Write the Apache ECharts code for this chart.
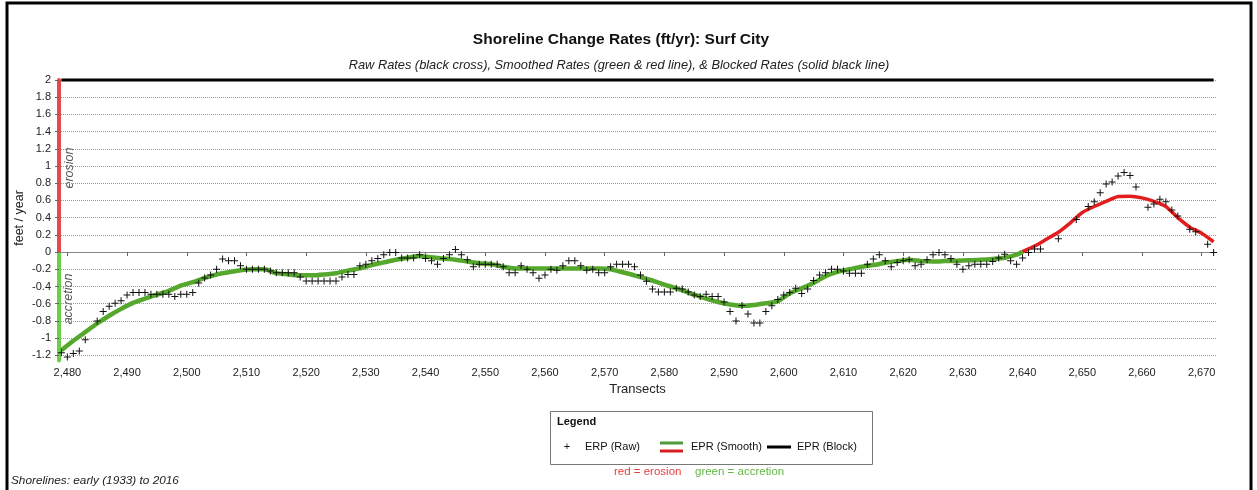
<!DOCTYPE html>
<html>
<head>
<meta charset="utf-8">
<script src="https://cdn.jsdelivr.net/npm/echarts@6/dist/echarts.min.js"></script>
<style>
html,body{margin:0;padding:0;background:#fff;}
#chart{width:1257px;height:490px;}
</style>
</head>
<body>
<div id="chart"></div>
<script>
// ---- data ----
const xTicks = [2480,2490,2500,2510,2520,2530,2540,2550,2560,2570,2580,2590,2600,2610,2620,2630,2640,2650,2660,2670];
const yTicks = [-1.2,-1,-0.8,-0.6,-0.4,-0.2,0,0.2,0.4,0.6,0.8,1,1.2,1.4,1.6,1.8,2];

const rawTransects = [2479,2480,2481,2482,2483,2485,2486,2487,2488,2489,2490,2491,2492,2493,2494,2495,2496,2497,2498,2499,
  2500,2501,2502,2503,2504,2505,2506,2507,2508,2509,2510,2511,2512,2513,2514,2515,2516,2517,2518,2519,
  2520,2521,2522,2523,2524,2525,2526,2527,2528,2529,2530,2531,2532,2533,2534,2535,2536,2537,2538,2539,
  2540,2541,2542,2543,2544,2545,2546,2547,2548,2549,2550,2551,2552,2553,2554,2555,2556,2557,2558,2559,
  2560,2561,2562,2563,2564,2565,2566,2567,2568,2569,2570,2571,2572,2573,2574,2575,2576,2577,2578,2579,
  2580,2581,2582,2583,2584,2585,2586,2587,2588,2589,2590,2591,2592,2593,2594,2595,2596,2597,2598,2599,
  2600,2601,2602,2603,2604,2605,2606,2607,2608,2609,2610,2611,2612,2613,2614,2615,2616,2617,2618,2619,
  2620,2621,2622,2623,2624,2625,2626,2627,2628,2629,2630,2631,2632,2633,2634,2635,2636,2637,2638,2639,
  2640,2641,2642,2643,2646,2649,2651,2652,2653,2654,2655,2656,2657,2658,2659,2661,2662,2663,2664,2665,
  2666,2668,2669,2671,2672];
const rawRates = [-1.17,-1.22,-1.18,-1.15,-1.02,-0.80,-0.69,-0.63,-0.595,-0.565,-0.50,-0.47,-0.47,-0.47,-0.49,-0.49,-0.49,-0.49,-0.515,-0.49,
  -0.49,-0.47,-0.36,-0.30,-0.265,-0.20,-0.08,-0.10,-0.10,-0.16,-0.20,-0.20,-0.20,-0.20,-0.22,-0.24,-0.24,-0.24,-0.24,-0.29,
  -0.335,-0.335,-0.335,-0.335,-0.335,-0.335,-0.29,-0.26,-0.26,-0.16,-0.14,-0.10,-0.075,-0.03,-0.005,-0.005,-0.07,-0.07,-0.07,-0.03,
  -0.075,-0.10,-0.14,-0.075,-0.03,0.03,-0.03,-0.09,-0.17,-0.14,-0.14,-0.14,-0.14,-0.17,-0.24,-0.24,-0.16,-0.20,-0.24,-0.305,
  -0.265,-0.20,-0.21,-0.16,-0.10,-0.10,-0.16,-0.21,-0.20,-0.24,-0.24,-0.17,-0.14,-0.14,-0.14,-0.17,-0.265,-0.34,-0.43,-0.465,
  -0.465,-0.465,-0.42,-0.43,-0.465,-0.50,-0.515,-0.49,-0.515,-0.515,-0.58,-0.69,-0.80,-0.62,-0.72,-0.825,-0.825,-0.69,-0.625,-0.55,
  -0.50,-0.47,-0.42,-0.48,-0.43,-0.33,-0.265,-0.24,-0.20,-0.20,-0.22,-0.245,-0.245,-0.245,-0.14,-0.08,-0.03,-0.10,-0.17,-0.12,
  -0.10,-0.09,-0.16,-0.14,-0.09,-0.03,-0.005,-0.03,-0.075,-0.14,-0.20,-0.16,-0.14,-0.14,-0.14,-0.11,-0.07,-0.025,-0.10,-0.14,
  -0.07,-0.005,0.035,0.035,0.155,0.38,0.53,0.585,0.69,0.79,0.815,0.885,0.925,0.89,0.755,0.52,0.56,0.615,0.585,0.49,
  0.42,0.265,0.235,0.09,-0.005];

const smoothGreenTransects = [2479,2481,2483,2485,2487,2489,2491,2493,2495,2497,2499,2501,2503,2505,2507,2509,2511,2513,2515,2517,
  2519,2521,2523,2525,2527,2529,2531,2533,2535,2537,2539,2541,2543,2545,2547,2549,2551,2553,2555,2557,
  2559,2561,2563,2565,2567,2569,2571,2573,2575,2577,2579,2581,2583,2585,2587,2589,2591,2593,2595,2597,
  2599,2601,2603,2605,2607,2609,2611,2613,2615,2617,2619,2621,2623,2625,2627,2629,2631,2633,2635,2637,
  2639,2640];
const smoothGreenRates = [-1.14,-1.03,-0.93,-0.83,-0.74,-0.66,-0.59,-0.54,-0.495,-0.45,-0.39,-0.35,-0.30,-0.26,-0.235,-0.21,-0.20,-0.20,-0.245,-0.26,
  -0.27,-0.27,-0.26,-0.245,-0.215,-0.19,-0.15,-0.12,-0.09,-0.065,-0.045,-0.06,-0.075,-0.09,-0.11,-0.13,-0.14,-0.17,-0.19,-0.19,
  -0.19,-0.19,-0.19,-0.19,-0.19,-0.19,-0.20,-0.235,-0.27,-0.31,-0.355,-0.40,-0.445,-0.495,-0.54,-0.58,-0.61,-0.625,-0.615,-0.595,
  -0.57,-0.48,-0.42,-0.36,-0.28,-0.23,-0.20,-0.17,-0.15,-0.125,-0.105,-0.09,-0.105,-0.11,-0.105,-0.10,-0.095,-0.09,-0.08,-0.065,
  -0.03,0.005];

const smoothRedTransects = [2640,2642,2644,2646,2648,2650,2652,2654,2656,2658,2660,2662,2664,2666,2668,2670,2672];
const smoothRedRates = [0.005,0.07,0.15,0.23,0.34,0.46,0.53,0.59,0.645,0.65,0.63,0.59,0.53,0.40,0.29,0.22,0.12];

const blockTransects = [2479,2672];
const blockRates = [2,2];

// ---- build ----
const zip = (a,b) => a.map((x,i)=>[x,b[i]]);
const font = 'Arial, "Liberation Sans", sans-serif';
const chart = echarts.init(document.getElementById('chart'), null, {renderer:'canvas'});

const gridTop = 80, gridLeft = 59, gridRight = 41, gridBottom = 129.5;
const yMin = -1.26, yMax = 2;
const plotH = 490 - gridTop - gridBottom;
const zeroY = gridTop + plotH * (yMax - 0) / (yMax - yMin);

chart.setOption({
  backgroundColor: '#fff',
  animation: false,
  title: [
    {text: 'Shoreline Change Rates (ft/yr): Surf City', left: 616, top: 27, textAlign: 'center',
     textStyle: {fontFamily: font, fontSize: 15.5, fontWeight: 'bold', color: '#111'}},
    {text: 'Raw Rates (black cross), Smoothed Rates (green & red line), & Blocked Rates (solid black line)', left: 614, top: 54, textAlign: 'center',
     textStyle: {fontFamily: font, fontSize: 12.8, fontStyle: 'italic', fontWeight: 'normal', color: '#222'}}
  ],
  grid: {left: gridLeft, right: gridRight, top: gridTop, bottom: gridBottom, containLabel: false},
  xAxis: {
    type: 'value', min: 2478.6, max: 2672.4,
    name: 'Transects', nameLocation: 'middle', nameGap: 22,
    nameTextStyle: {fontFamily: font, fontSize: 13, color: '#222'},
    axisLine: {show: true, lineStyle: {color: '#888', width: 1}},
    axisTick: {show: true, length: 4, lineStyle: {color: '#666'}, customValues: xTicks},
    axisLabel: {fontFamily: font, fontSize: 11, color: '#222', margin: 7, customValues: xTicks,
      formatter: v => Number(v).toLocaleString('en-US')},
    splitLine: {show: false}
  },
  yAxis: {
    type: 'value', min: yMin, max: yMax,
    axisLine: {show: true, lineStyle: {width: 4,
      color: new echarts.graphic.LinearGradient(0, gridTop, 0, 490 - gridBottom, [
        {offset: 0, color: '#e8474c'}, {offset: (zeroY - gridTop) / plotH, color: '#e8474c'},
        {offset: (zeroY - gridTop) / plotH, color: '#6ccf48'}, {offset: 1, color: '#6ccf48'}], true)}},
    axisTick: {show: true, length: 4, lineStyle: {color: '#666'}, customValues: yTicks},
    axisLabel: {fontFamily: font, fontSize: 11, color: '#222', margin: 8, customValues: yTicks,
      formatter: v => String(Math.round(v * 10) / 10)},
    splitLine: {show: true, lineStyle: {color: '#9a9a9a', type: [1, 1], width: 1}}
  },
  series: [
    {name: 'EPR (Block)', type: 'line', data: zip(blockTransects, blockRates), symbol: 'none', clip: false,
     lineStyle: {color: '#000', width: 3}, z: 3},
    {name: 'EPR (Smooth) green', type: 'line', data: zip(smoothGreenTransects, smoothGreenRates), symbol: 'none',
     smooth: 0.2, lineStyle: {color: '#55a82c', width: 4.5}, z: 2},
    {name: 'EPR (Smooth) red', type: 'line', data: zip(smoothRedTransects, smoothRedRates), symbol: 'none',
     smooth: 0.2, lineStyle: {color: '#e31d1d', width: 3.5}, z: 2},
    {name: 'ERP (Raw)', type: 'scatter', data: zip(rawTransects, rawRates), clip: false,
     symbol: 'path://M3,0h1v3h3v1h-3v3h-1v-3h-3v-1h3z', symbolSize: 7,
     itemStyle: {color: '#111', opacity: 1}, z: 4}
  ],
  graphic: [
    {type: 'rect', shape: {x: 7, y: 3, width: 1244, height: 520}, style: {fill: 'none', stroke: '#000', lineWidth: 3}, silent: true, z: 100},
    {type: 'text', x: 20, y: 218, rotation: Math.PI / 2, style: {text: 'feet / year', font: '12.5px ' + font, fill: '#222', align: 'center', verticalAlign: 'middle'}},
    {type: 'text', x: 70, y: 168, rotation: Math.PI / 2, style: {text: 'erosion', font: 'italic 12.5px ' + font, fill: '#555', align: 'center', verticalAlign: 'middle'}},
    {type: 'text', x: 69, y: 299, rotation: Math.PI / 2, style: {text: 'accretion', font: 'italic 12.5px ' + font, fill: '#555', align: 'center', verticalAlign: 'middle'}},
    // legend box
    {type: 'rect', shape: {x: 550.5, y: 411.5, width: 322, height: 53}, style: {fill: '#fff', stroke: '#777', lineWidth: 1}},
    {type: 'text', x: 557, y: 422, style: {text: 'Legend', font: 'bold 11px ' + font, fill: '#111', verticalAlign: 'middle'}},
    {type: 'text', x: 567, y: 447, style: {text: '+', font: '11px ' + font, fill: '#111', align: 'center', verticalAlign: 'middle'}},
    {type: 'text', x: 585, y: 447, style: {text: 'ERP (Raw)', font: '11px ' + font, fill: '#111', verticalAlign: 'middle'}},
    {type: 'line', shape: {x1: 660, y1: 443, x2: 683, y2: 443}, style: {stroke: '#4f9a3a', lineWidth: 3}},
    {type: 'line', shape: {x1: 660, y1: 451, x2: 683, y2: 451}, style: {stroke: '#d91e1e', lineWidth: 3}},
    {type: 'text', x: 691, y: 447, style: {text: 'EPR (Smooth)', font: '11px ' + font, fill: '#111', verticalAlign: 'middle'}},
    {type: 'line', shape: {x1: 767, y1: 447, x2: 791, y2: 447}, style: {stroke: '#000', lineWidth: 3}},
    {type: 'text', x: 797, y: 447, style: {text: 'EPR (Block)', font: '11px ' + font, fill: '#111', verticalAlign: 'middle'}},
    {type: 'text', x: 614, y: 472, style: {text: 'red = erosion', font: '11.5px ' + font, fill: '#e8403f', verticalAlign: 'middle'}},
    {type: 'text', x: 695, y: 472, style: {text: 'green = accretion', font: '11.5px ' + font, fill: '#62b645', verticalAlign: 'middle'}},
    {type: 'text', x: 11, y: 481, style: {text: 'Shorelines: early (1933) to 2016', font: 'italic 11.8px ' + font, fill: '#222', verticalAlign: 'middle'}}
  ]
});
</script>
</body>
</html>
